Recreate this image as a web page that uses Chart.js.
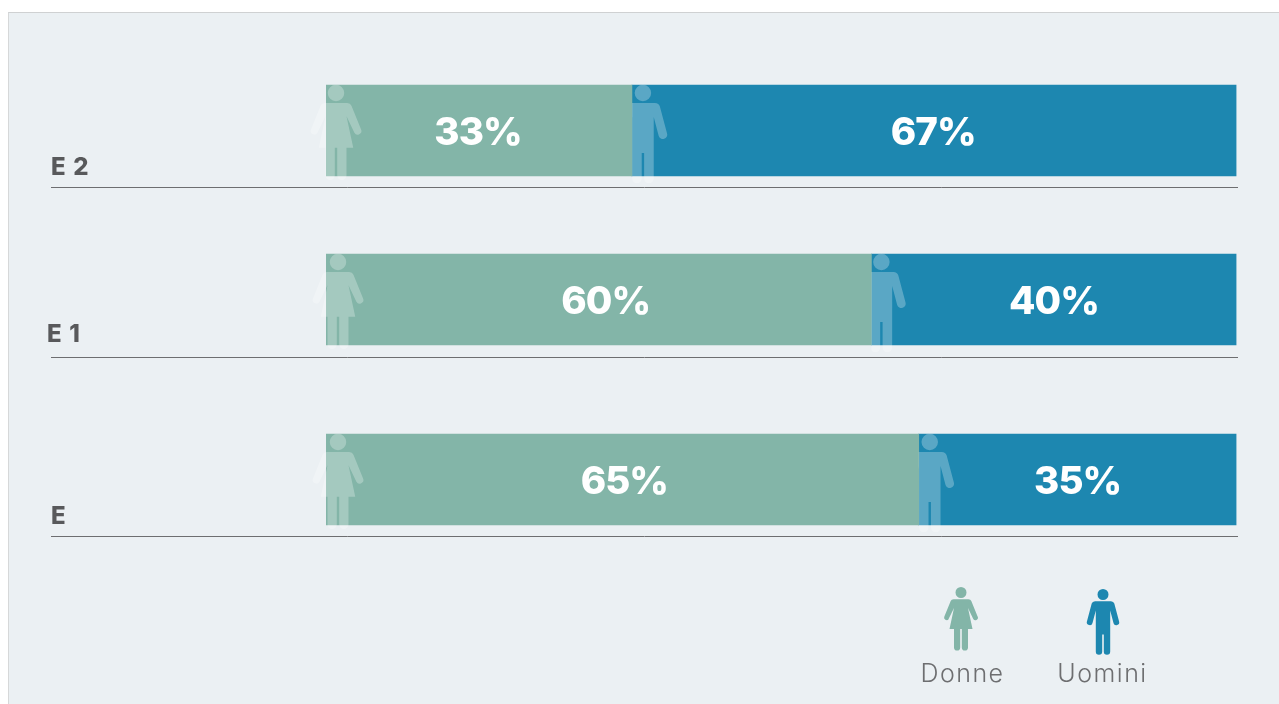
<!DOCTYPE html>
<html><head><meta charset="utf-8">
<style>
html,body{margin:0;padding:0;background:#fff;width:1279px;height:704px;overflow:hidden}
#panel{position:absolute;left:8px;top:12px;right:0;bottom:0;background:#ebf0f3;border-top:1px solid #cfd1d2;border-left:1px solid #d6d8d9}
canvas{position:absolute;left:0;top:0}
</style>
<script src="https://cdn.jsdelivr.net/npm/chart.js@4"></script>
</head><body><div id="panel"></div><canvas id="c" width="1279" height="704"></canvas>
<script>
const categories = ['E 2', 'E 1', 'E'];
const rowPositions = [0, 1, 2.065];
const donneValues = [33.6, 59.9, 65.1];
const uominiValues = [66.4, 40.1, 34.9];
const donneLabels = ['33%', '60%', '65%'];
const uominiLabels = ['67%', '40%', '35%'];
const seriesNames = ['Donne', 'Uomini'];

const GREEN = '#83b5a8', BLUE = '#1d87b0';
const labelOffset = [{x: 51, y: 37.5}, {x: 47, y: 35.5}, {x: 51, y: 37.5}];
const ruleOffset = [56.5, 57.5, 56.5];
const womanDx = [10, 12, 12], manDx = [11, 10, 11];
const donneTextDx = [-1, 7, 2], uominiTextDx = [-1, 0, 0];

function drawWoman(ctx, cx, cy, s, color) {
  ctx.save(); ctx.translate(cx, cy); ctx.scale(s, s);
  ctx.beginPath();
  ctx.arc(0, 0, 5.5, 0, Math.PI * 2);
  ctx.moveTo(-7.5, 6.7); ctx.lineTo(7.5, 6.7);
  ctx.quadraticCurveTo(9.6, 6.9, 10.3, 8.5);
  ctx.lineTo(16.6, 24); ctx.arc(14.4, 25.2, 2.5, -0.45, 2.6);
  ctx.lineTo(7, 15.5);
  ctx.lineTo(11.5, 36.5); ctx.lineTo(7, 36.5); ctx.lineTo(7, 55);
  ctx.arc(3.9, 55, 3.1, 0, Math.PI); ctx.lineTo(0.8, 36.5); ctx.lineTo(-0.8, 36.5); ctx.lineTo(-0.8, 55);
  ctx.arc(-3.9, 55, 3.1, 0, Math.PI); ctx.lineTo(-7, 36.5); ctx.lineTo(-11.5, 36.5);
  ctx.lineTo(-7, 15.5);
  ctx.lineTo(-12.3, 26.3); ctx.arc(-14.4, 25.2, 2.5, 0.54, 3.6);
  ctx.lineTo(-10.3, 8.5);
  ctx.quadraticCurveTo(-9.6, 6.9, -7.5, 6.7);
  ctx.closePath();
  ctx.fillStyle = color; ctx.fill();
  ctx.restore();
}
function drawMan(ctx, cx, cy, s, color) {
  ctx.save(); ctx.translate(cx, cy); ctx.scale(s, s);
  ctx.beginPath();
  ctx.arc(0, 0, 5.5, 0, Math.PI * 2);
  ctx.moveTo(-8, 6.7); ctx.lineTo(8, 6.7);
  ctx.quadraticCurveTo(10.6, 6.9, 11.3, 9);
  ctx.lineTo(16.1, 27); ctx.arc(13.3, 27.8, 2.9, -0.3, 2.9);
  ctx.lineTo(7.2, 16);
  ctx.lineTo(7.2, 57); ctx.arc(4, 57, 3.2, 0, Math.PI); ctx.lineTo(0.8, 40); ctx.lineTo(-0.8, 40); ctx.lineTo(-0.8, 57);
  ctx.arc(-4, 57, 3.2, 0, Math.PI); ctx.lineTo(-7.2, 16);
  ctx.lineTo(-10.5, 28.6); ctx.arc(-13.3, 27.8, 2.9, 0.24, 3.44);
  ctx.lineTo(-11.3, 9);
  ctx.quadraticCurveTo(-10.6, 6.9, -8, 6.7);
  ctx.closePath();
  ctx.fillStyle = color; ctx.fill();
  ctx.restore();
}

const overlay = {
  id: 'overlay',
  afterDatasetsDraw(chart) {
    const ctx = chart.ctx, ys = chart.scales.y;
    const m0 = chart.getDatasetMeta(0).data, m1 = chart.getDatasetMeta(1).data;
    const veil = 'rgba(255,255,255,0.27)';
    ctx.save();
    categories.forEach((name, i) => {
      const a = m0[i], b = m1[i];
      const top = a.y - a.height / 2;
      drawWoman(ctx, a.base + womanDx[i], top + 8, 1.5, veil);
      ctx.save();
      ctx.beginPath(); ctx.rect(b.base, top - 10, 80, 120); ctx.clip();
      drawMan(ctx, b.base + manDx[i], top + 8, 1.5, veil);
      ctx.restore();

      ctx.fillStyle = '#fff';
      ctx.font = '800 38.5px Inter';
      ctx.letterSpacing = '-1px';
      ctx.textAlign = 'center'; ctx.textBaseline = 'middle';
      ctx.fillText(donneLabels[i], (a.base + a.x) / 2 + donneTextDx[i], a.y + 2.5);
      ctx.fillText(uominiLabels[i], (b.base + b.x) / 2 + uominiTextDx[i], b.y + 2.5);

      const cy = ys.getPixelForValue(rowPositions[i]);
      ctx.fillStyle = '#58595b';
      ctx.font = '800 24px Inter';
      ctx.letterSpacing = '1.2px';
      ctx.textAlign = 'left';
      ctx.fillText(name, labelOffset[i].x, cy + labelOffset[i].y);

      ctx.strokeStyle = '#6d6e70'; ctx.lineWidth = 1;
      ctx.beginPath();
      const ry = Math.round(cy + ruleOffset[i]) + 0.5;
      ctx.moveTo(51, ry); ctx.lineTo(1238, ry); ctx.stroke();
    });
    drawWoman(ctx, 961, 592.5, 1, GREEN);
    drawMan(ctx, 1103, 594.5, 1, BLUE);
    ctx.fillStyle = '#6d6e70';
    ctx.font = '300 25px Inter';
    ctx.letterSpacing = '1.5px';
    ctx.textAlign = 'center';
    ctx.fillText(seriesNames[0], 962.5, 674);
    ctx.fillText(seriesNames[1], 1102.5, 674);
    ctx.restore();
  }
};

new Chart(document.getElementById('c'), {
  type: 'bar',
  data: {
    datasets: [
      {label: seriesNames[0], backgroundColor: GREEN, barThickness: 91, borderWidth: 0,
       data: donneValues.map((v, i) => ({x: v, y: rowPositions[i]}))},
      {label: seriesNames[1], backgroundColor: BLUE, barThickness: 91, borderWidth: 0,
       data: uominiValues.map((v, i) => ({x: v, y: rowPositions[i]}))}
    ]
  },
  options: {
    indexAxis: 'y',
    responsive: false,
    animation: false,
    layout: {padding: {left: 326, right: 42.5, top: 46, bottom: 140}},
    plugins: {legend: {display: false}, tooltip: {enabled: false}},
    scales: {
      x: {type: 'linear', stacked: true, min: 0, max: 100, display: false},
      y: {type: 'linear', stacked: true, reverse: true, offset: false, min: -0.5, max: 2.565, display: false}
    }
  },
  plugins: [overlay]
});
</script>
</body></html>
